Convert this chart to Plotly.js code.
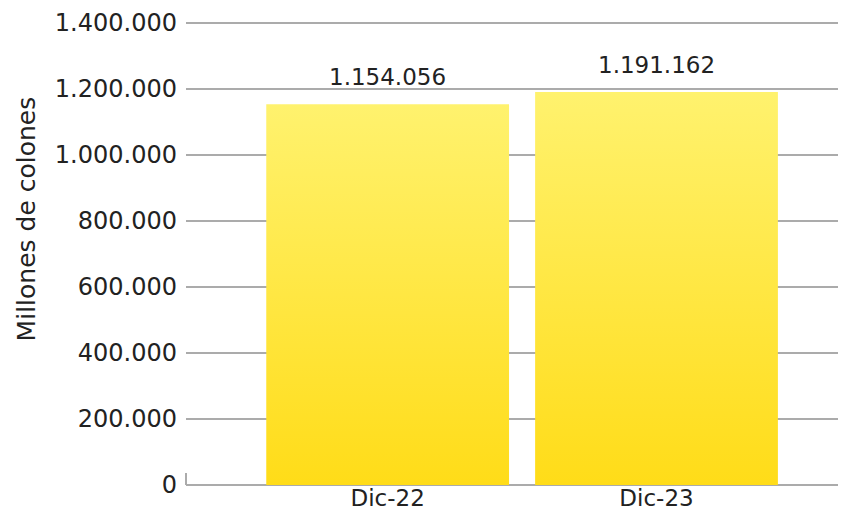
<!DOCTYPE html>
<html>
<head>
<meta charset="utf-8">
<script src="https://cdn.plot.ly/plotly-3.0.1.min.js"></script>
<style>
    body { margin: 0; background: #fff; }
    #chart { width: 853px; height: 514px; }
</style>
</head>
<body>
<div id="chart"></div>
<script>
const chartDiv = document.getElementById("chart")

let periodos = ["Dic-22", "Dic-23"]
let montos = [1154056, 1191162]
let yTicks = [0, 200000, 400000, 600000, 800000, 1000000, 1200000, 1400000]

const fuente = "DejaVu Sans, sans-serif"

let traceBarras = {
    x: periodos,
    y: montos,
    type: "bar",
    marker: { color: "#FFE640" },
    hoverinfo: "skip"
}

// etiquetas de valor encima de cada barra
let etiquetas = periodos.map((p, i) => ({
    x: p,
    y: montos[i],
    xref: "x",
    yref: "y",
    text: montos[i].toLocaleString("de-DE"),
    showarrow: false,
    yanchor: "bottom",
    yshift: 12,
    font: { family: fuente, size: 23, color: "#222" }
}))

// titulo del eje y (un poco por encima del centro, como el original)
etiquetas.push({
    text: "Millones de colones",
    xref: "paper",
    yref: "paper",
    x: 0,
    y: 0.57,
    xanchor: "center",
    yanchor: "middle",
    xshift: -160,
    textangle: -90,
    showarrow: false,
    font: { family: fuente, size: 25, color: "#222" }
})

let layout = {
    width: 853,
    height: 514,
    margin: { l: 186, r: 15, t: 19, b: 29 },
    separators: ",.",
    showlegend: false,
    bargap: 0.097,
    paper_bgcolor: "#fff",
    plot_bgcolor: "#fff",
    font: { family: fuente, size: 24, color: "#222" },
    xaxis: {
        range: [-0.75, 1.675],
        showgrid: false,
        showline: false,
        ticks: "",
        tickfont: { family: fuente, size: 23, color: "#222" },
        ticklabelstandoff: -3
    },
    yaxis: {
        range: [0, 1412000],
        tickvals: yTicks,
        tickformat: ",d",
        showgrid: true,
        gridcolor: "#ababab",
        gridwidth: 2,
        zeroline: true,
        zerolinecolor: "#ababab",
        zerolinewidth: 2,
        ticks: "",
        ticklabelstandoff: 8,
        tickfont: { family: fuente, size: 24, color: "#222" }
    },
    annotations: etiquetas,
    shapes: [{
        type: "line",
        xref: "paper",
        yref: "y",
        x0: 0, x1: 0,
        ysizemode: "pixel",
        yanchor: 0,
        y0: 0, y1: 12,
        line: { color: "#ababab", width: 2 }
    }]
}

let config = { displayModeBar: false, staticPlot: true }

function pintarDegradado () {
    let svg = chartDiv.querySelector("svg.main-svg")
    let defs = svg.querySelector("defs")
    let ns = "http://www.w3.org/2000/svg"
    let grad = document.createElementNS(ns, "linearGradient")
    grad.setAttribute("id", "degradadoBarra")
    grad.setAttribute("x1", "0")
    grad.setAttribute("y1", "0")
    grad.setAttribute("x2", "0")
    grad.setAttribute("y2", "1")
    let stops = [["0", "#FFF26E"], ["1", "#FFDC18"]]
    stops.forEach(s => {
        let st = document.createElementNS(ns, "stop")
        st.setAttribute("offset", s[0])
        st.setAttribute("stop-color", s[1])
        grad.appendChild(st)
    })
    defs.appendChild(grad)
    chartDiv.querySelectorAll(".bars .point path").forEach(p => {
        p.style.fill = "url(#degradadoBarra)"
    })
}

Plotly.newPlot(chartDiv, [traceBarras], layout, config).then(pintarDegradado)
</script>
</body>
</html>
